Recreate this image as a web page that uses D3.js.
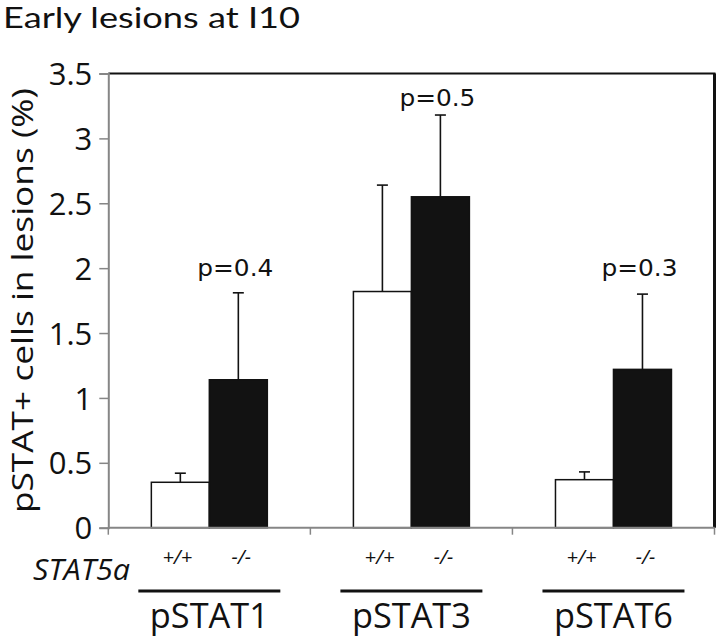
<!DOCTYPE html>
<html>
<head>
<meta charset="utf-8">
<script src="https://cdn.jsdelivr.net/npm/d3@7"></script>
<style>
  html, body { margin: 0; padding: 0; background: #fff; }
  svg { display: block; }
</style>
</head>
<body>
<svg id="chart" width="717" height="637"></svg>
<script>
// ---- data ----
const groups = ["pSTAT1", "pSTAT3", "pSTAT6"];
const genotypes = ["+/+", "-/-"];
const wildTypeMeans = [0.35, 1.82, 0.37];
const wildTypeErrors = [0.07, 0.82, 0.06];
const knockoutMeans = [1.14, 2.55, 1.22];
const knockoutErrors = [0.67, 0.63, 0.58];
const pValues = ["p=0.4", "p=0.5", "p=0.3"];
const pLabelLevels = [1.94, 3.25, 1.94];
const yTicks = [0, 0.5, 1, 1.5, 2, 2.5, 3, 3.5];
const titleText = "Early lesions at I10";
const yTitle = "pSTAT+ cells in lesions (%)";
const factorLabel = "STAT5a";

(function () {
const rows = [];
groups.forEach((g, i) => {
  rows.push({group: g, geno: "+/+", mean: wildTypeMeans[i], err: wildTypeErrors[i]});
  rows.push({group: g, geno: "-/-", mean: knockoutMeans[i], err: knockoutErrors[i]});
});

// ---- layout ----
const svg = d3.select("#chart");
const pLeft = 108.3, pRight = 714.5, pTop = 73.5, pBottom = 527.7;
const axisGray = "#868686";
const font = "'Open Sans', sans-serif";

const y = d3.scaleLinear().domain([0, 3.5]).range([pBottom, pTop]);
const x0 = d3.scaleBand().domain(groups).range([pLeft, pRight])
  .paddingInner(0.426).paddingOuter(0.213);
const x1 = d3.scaleBand().domain(genotypes).range([0, x0.bandwidth()]).padding(0);
const step = x0.step();

// title
svg.append("text").attr("x", 3).attr("y", 28)
  .attr("font-family", "Lato, 'Open Sans', sans-serif").attr("font-size", 28).attr("fill", "#111")
  .attr("textLength", 297).attr("lengthAdjust", "spacingAndGlyphs")
  .text(titleText);

// plot frame: top and right black borders
svg.append("line").attr("x1", pLeft).attr("x2", pRight + 1).attr("y1", pTop).attr("y2", pTop)
  .attr("stroke", "#111").attr("stroke-width", 2);
svg.append("line").attr("x1", pRight).attr("x2", pRight).attr("y1", pTop).attr("y2", pBottom)
  .attr("stroke", "#111").attr("stroke-width", 3);

// y axis
const yAxis = d3.axisLeft(y).tickValues(yTicks).tickSize(9).tickPadding(7)
  .tickFormat(d => String(d));
const gy = svg.append("g").attr("transform", `translate(${pLeft},0)`).call(yAxis);
gy.select(".domain").attr("stroke", axisGray).attr("stroke-width", 2);
gy.selectAll(".tick line").attr("stroke", axisGray).attr("stroke-width", 1.5);
gy.selectAll(".tick text").attr("font-family", font).attr("font-size", 31)
  .attr("fill", "#111").attr("dy", "0.36em");

// y title
svg.append("text")
  .attr("transform", `translate(33,${(pTop + pBottom) / 2}) rotate(-90)`)
  .attr("text-anchor", "middle")
  .attr("font-family", font).attr("font-size", 30).attr("fill", "#111")
  .attr("textLength", 425).attr("lengthAdjust", "spacingAndGlyphs")
  .text(yTitle);

// bars
const gBars = svg.append("g");
gBars.selectAll("rect").data(rows).join("rect")
  .attr("x", d => x0(d.group) + x1(d.geno))
  .attr("width", x1.bandwidth())
  .attr("y", d => y(d.mean))
  .attr("height", d => y(0) - y(d.mean))
  .attr("fill", d => d.geno === "+/+" ? "#fff" : "#121212")
  .attr("stroke", "#121212").attr("stroke-width", 1.5);

// error bars
const capW = 11;
const gErr = svg.append("g").attr("stroke", "#121212").attr("stroke-width", 1.6);
rows.forEach(d => {
  const cx = x0(d.group) + x1(d.geno) + x1.bandwidth() / 2;
  gErr.append("line").attr("x1", cx).attr("x2", cx)
    .attr("y1", y(d.mean)).attr("y2", y(d.mean + d.err));
  gErr.append("line").attr("x1", cx - capW / 2).attr("x2", cx + capW / 2)
    .attr("y1", y(d.mean + d.err)).attr("y2", y(d.mean + d.err));
});

// x axis (bottom line with category boundary ticks)
svg.append("line").attr("x1", pLeft).attr("x2", pRight).attr("y1", pBottom).attr("y2", pBottom)
  .attr("stroke", axisGray).attr("stroke-width", 2);
const boundaries = groups.map(g => x0(g) - (step - x0.bandwidth()) / 2).concat([pRight]);
svg.append("g").selectAll("line").data(boundaries).join("line")
  .attr("x1", d => d).attr("x2", d => d)
  .attr("y1", pBottom).attr("y2", pBottom + 7)
  .attr("stroke", axisGray).attr("stroke-width", 1.5);

// p-value labels
svg.append("g").selectAll("text").data(groups).join("text")
  .attr("x", g => x0(g) + x1("-/-") + x1.bandwidth() / 2 - 3)
  .attr("y", (g, i) => y(pLabelLevels[i]))
  .attr("text-anchor", "middle")
  .attr("font-family", "'DejaVu Sans', sans-serif").attr("font-size", 23).attr("fill", "#111")
  .attr("textLength", 76).attr("lengthAdjust", "spacingAndGlyphs")
  .text((g, i) => pValues[i]);

// genotype labels
const genoRows = [];
groups.forEach(g => genotypes.forEach(t => genoRows.push({group: g, geno: t})));
svg.append("g").selectAll("text").data(genoRows).join("text")
  .attr("x", d => x0(d.group) + x1(d.geno) + x1.bandwidth() / 2 + (d.geno === "+/+" ? -3 : 3))
  .attr("y", 564)
  .attr("text-anchor", "middle")
  .attr("font-family", font).attr("font-style", "italic")
  .attr("font-size", 20).attr("fill", "#111")
  .text(d => d.geno);

// factor label
svg.append("text").attr("x", 33).attr("y", 580)
  .attr("font-family", font).attr("font-style", "italic")
  .attr("font-size", 29).attr("fill", "#111")
  .attr("textLength", 97).attr("lengthAdjust", "spacingAndGlyphs")
  .text(factorLabel);

// group underline + names
const lineW = 142;
svg.append("g").selectAll("line").data(groups).join("line")
  .attr("x1", g => x0(g) + x0.bandwidth() / 2 - lineW / 2)
  .attr("x2", g => x0(g) + x0.bandwidth() / 2 + lineW / 2)
  .attr("y1", 591).attr("y2", 591)
  .attr("stroke", "#111").attr("stroke-width", 3);
svg.append("g").selectAll("text").data(groups).join("text")
  .attr("x", g => x0(g) + x0.bandwidth() / 2)
  .attr("y", 628)
  .attr("text-anchor", "middle")
  .attr("font-family", font).attr("font-size", 34).attr("fill", "#111")
  .attr("textLength", 119).attr("lengthAdjust", "spacingAndGlyphs")
  .text(g => g);
})();
</script>
</body>
</html>
